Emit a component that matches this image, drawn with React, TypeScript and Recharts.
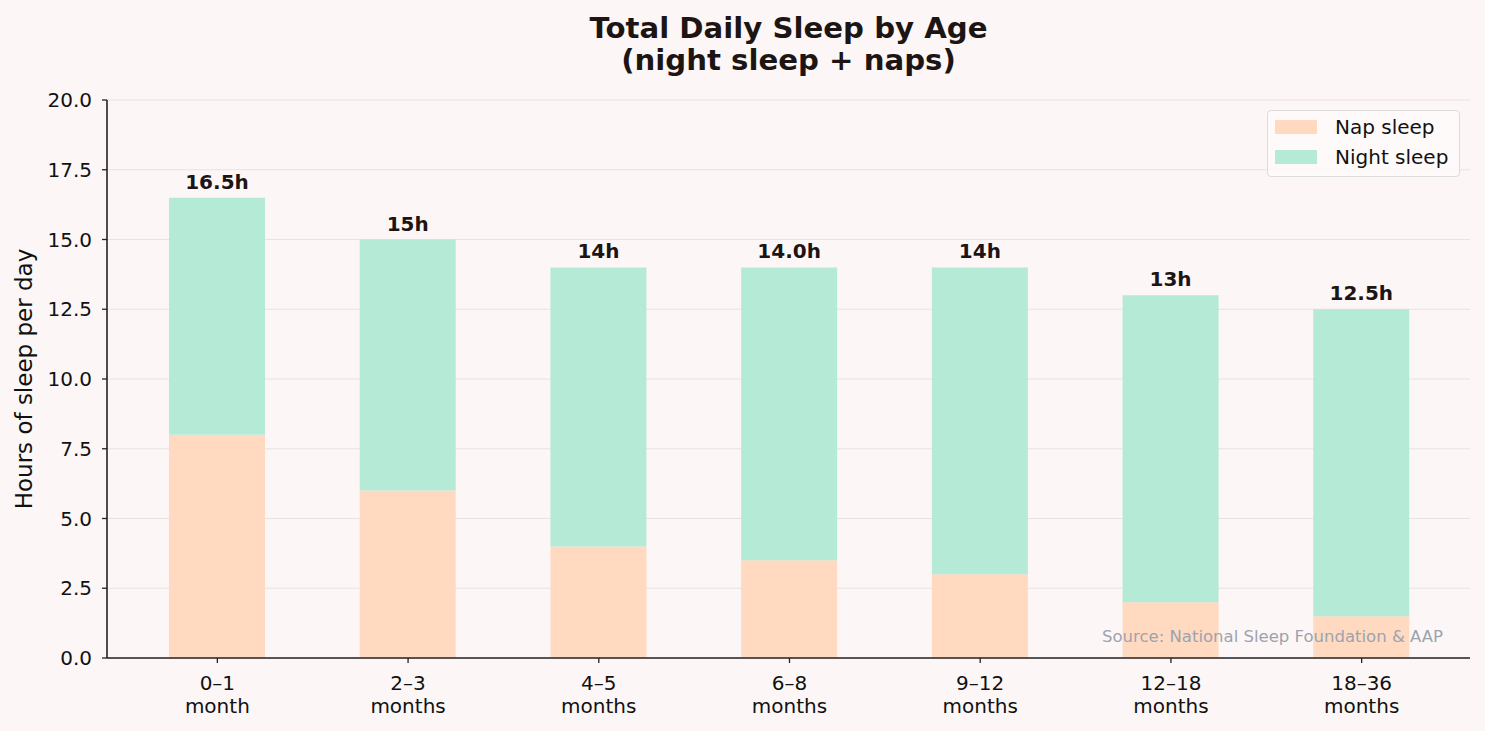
import { Bar, BarChart, CartesianGrid, LabelList, XAxis, YAxis } from "recharts";

if (typeof document !== "undefined") document.body.style.margin = "0";

const ageGroups = ["0–1\nmonth", "2–3\nmonths", "4–5\nmonths", "6–8\nmonths", "9–12\nmonths", "12–18\nmonths", "18–36\nmonths"];
const napHours = [8, 6, 4, 3.5, 3, 2, 1.5];
const nightHours = [8.5, 9, 10, 10.5, 11, 11, 11];
const totalLabels = ["16.5h", "15h", "14h", "14.0h", "14h", "13h", "12.5h"];
const yTicks = [0, 2.5, 5, 7.5, 10, 12.5, 15, 17.5, 20];

const NAP_COLOR = "#ffdac1";
const NIGHT_COLOR = "#b5ead7";
const BG = "#fcf7f6";
const INK = "#1c1514";
const FONT = "'DejaVu Sans', sans-serif";

const data = ageGroups.map((age, i) => ({
  age,
  nap: napHours[i],
  night: nightHours[i],
  label: totalLabels[i],
}));

function AgeTick(props: any) {
  const { x, y, payload } = props;
  const lines = String(payload.value).split("\n");
  return (
    <text x={x} y={y} textAnchor="middle" fontSize={20} fill="#111" fontFamily={FONT}>
      {lines.map((l, i) => (
        <tspan key={i} x={x} dy={i === 0 ? 27 : 23}>
          {l}
        </tspan>
      ))}
    </text>
  );
}

function TotalLabel(props: any) {
  const { x, y, width, value } = props;
  return (
    <text x={x + width / 2} y={y - 9} textAnchor="middle" fontSize={20} fontWeight="bold" fill={INK} fontFamily={FONT}>
      {value}
    </text>
  );
}

export default function App() {
  return (
    <div style={{ position: "relative", width: 1485, height: 731, background: BG, fontFamily: FONT }}>
      <div
        style={{
          position: "absolute",
          left: 107,
          width: 1363,
          top: 12,
          textAlign: "center",
          fontSize: 29.2,
          fontWeight: "bold",
          lineHeight: "32px",
          color: INK,
        }}
      >
        Total Daily Sleep by Age
        <br />
        (night sleep + naps)
      </div>
      <BarChart
        width={1485}
        height={731}
        data={data}
        margin={{ top: 100, right: 15, left: 0, bottom: 0 }}
        barCategoryGap={0}
        style={{ position: "absolute", left: 0, top: 0 }}
      >
        <CartesianGrid vertical={false} stroke="#e8e2e1" strokeWidth={1.2} />
        <XAxis
          dataKey="age"
          height={73}
          padding={{ left: 15, right: 13 }}
          tick={<AgeTick />}
          tickSize={5}
          tickMargin={0}
          interval={0}
          axisLine={{ stroke: "#222", strokeWidth: 1.6 }}
          tickLine={{ stroke: "#222", strokeWidth: 1.3 }}
        />
        <YAxis
          width={107}
          domain={[0, 20]}
          ticks={yTicks}
          tickFormatter={(v: number) => v.toFixed(1)}
          tick={{ fontSize: 20, fill: "#111", fontFamily: FONT }}
          tickSize={5}
          tickMargin={10}
          axisLine={{ stroke: "#222", strokeWidth: 1.6 }}
          tickLine={{ stroke: "#222", strokeWidth: 1.3 }}
          label={{
            value: "Hours of sleep per day",
            angle: -90,
            position: "insideLeft",
            dx: 19,
            dy: 0,
            style: { fontSize: 23, fill: "#111", fontFamily: FONT, textAnchor: "middle" },
          }}
        />
        <Bar dataKey="nap" stackId="s" fill={NAP_COLOR} barSize={96} isAnimationActive={false} name="Nap sleep" />
        <Bar dataKey="night" stackId="s" fill={NIGHT_COLOR} barSize={96} isAnimationActive={false} name="Night sleep">
          <LabelList dataKey="label" content={<TotalLabel />} />
        </Bar>
      </BarChart>
      <div
        style={{
          position: "absolute",
          left: 1267,
          top: 110,
          width: 193,
          height: 67,
          border: "1.5px solid #dcdcdc",
          borderRadius: 4,
          background: "rgba(253,250,249,0.85)",
          fontSize: 20,
          color: "#111",
          boxSizing: "border-box",
          padding: "1px 0 0 7px",
        }}
      >
        {[
          { name: "Nap sleep", color: NAP_COLOR },
          { name: "Night sleep", color: NIGHT_COLOR },
        ].map((item) => (
          <div key={item.name} style={{ display: "flex", alignItems: "center", height: 30 }}>
            <span style={{ display: "inline-block", width: 42, height: 14, background: item.color, marginRight: 18 }} />
            {item.name}
          </div>
        ))}
      </div>
      <div
        style={{
          position: "absolute",
          right: 42,
          top: 627,
          fontSize: 16.5,
          color: "#9ca3af",
        }}
      >
        Source: National Sleep Foundation &amp; AAP
      </div>
    </div>
  );
}
